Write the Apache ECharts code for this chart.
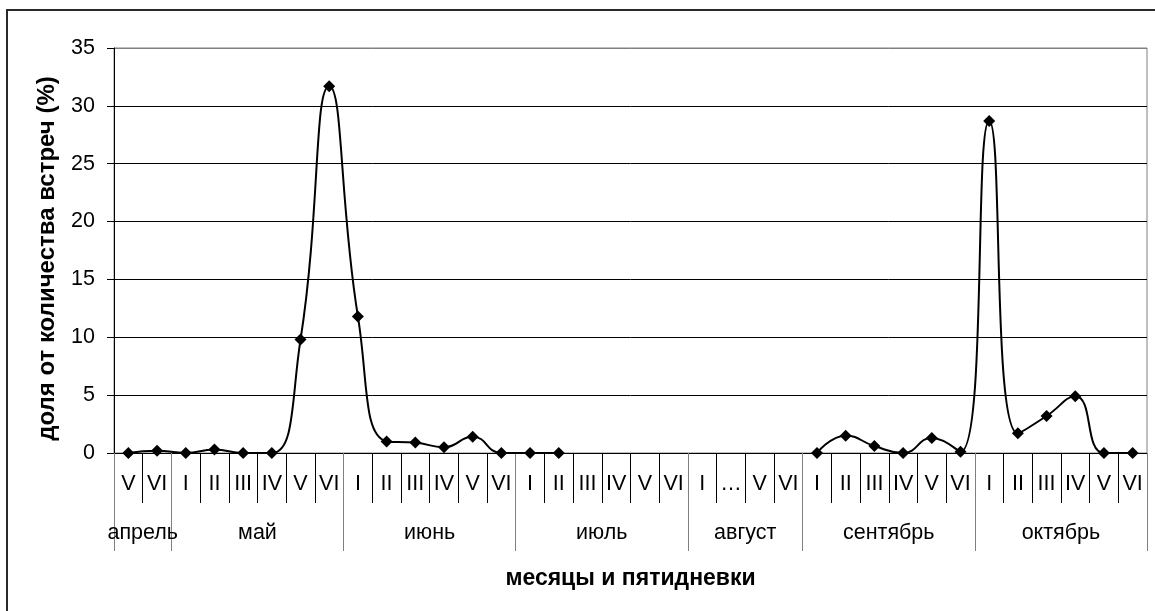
<!DOCTYPE html>
<html>
<head>
<meta charset="utf-8">
<script src="https://cdn.jsdelivr.net/npm/echarts@6/dist/echarts.min.js"></script>
<style>
html,body{margin:0;padding:0;background:#fff;}
#frame{position:absolute;left:6px;top:9px;width:1170px;height:640px;border:2px solid #2a2a2a;box-sizing:border-box;}
#chart{position:absolute;left:0;top:0;width:1155px;height:611px;}
</style>
</head>
<body>
<div id="frame"></div>
<div id="chart"></div>
<script>
var pentadLabels = ['V','VI',
  'I','II','III','IV','V','VI',
  'I','II','III','IV','V','VI',
  'I','II','III','IV','V','VI',
  'I','…','V','VI',
  'I','II','III','IV','V','VI',
  'I','II','III','IV','V','VI'];
var shareValues = [0, 0.2,
  0, 0.3, 0, 0, 9.8, 31.7,
  11.8, 1.0, 0.9, 0.5, 1.4, 0,
  0, 0, null, null, null, null,
  null, null, null, null,
  0, 1.5, 0.6, 0, 1.3, 0.1,
  28.7, 1.7, 3.2, 4.9, 0, 0];
var monthNames = ['апрель','май','июнь','июль','август','сентябрь','октябрь'];
var monthLengths = [2, 6, 6, 6, 4, 6, 6];
var yTicks = [0, 5, 10, 15, 20, 25, 30, 35];

var boundaries = [0], centers = [];
monthLengths.forEach(function (n) {
  var start = boundaries[boundaries.length - 1];
  centers.push(start + n / 2);
  boundaries.push(start + n);
});
var total = boundaries[boundaries.length - 1];

var font = 'Liberation Sans, Arial, sans-serif';
var chart = echarts.init(document.getElementById('chart'));
chart.setOption({
  backgroundColor: 'transparent',
  animation: false,
  grid: {left: 114, right: 8, top: 48, bottom: 158, show: true, borderColor: '#808080', borderWidth: 1, backgroundColor: 'transparent'},
  xAxis: [{
    type: 'category',
    data: pentadLabels,
    boundaryGap: true,
    axisLine: {lineStyle: {color: '#000', width: 1}},
    axisTick: {show: true, interval: 0, length: 50, lineStyle: {color: '#000'}},
    axisLabel: {interval: 0, margin: 20, fontSize: 21.5, color: '#000', fontFamily: font},
    splitLine: {show: false}
  }, {
    type: 'value',
    min: 0,
    max: total,
    position: 'bottom',
    axisLine: {show: false},
    splitLine: {show: false},
    axisTick: {show: true, customValues: boundaries, length: 98, lineStyle: {color: '#808080'}},
    axisLabel: {
      customValues: centers, margin: 69, fontSize: 21.5, color: '#000', fontFamily: font,
      formatter: function (v) { var i = centers.indexOf(v); return i >= 0 ? monthNames[i] : ''; }
    },
    name: 'месяцы и пятидневки',
    nameLocation: 'middle',
    nameGap: 114,
    nameTextStyle: {fontSize: 23, fontWeight: 'bold', color: '#000', fontFamily: font}
  }],
  yAxis: {
    type: 'value',
    min: yTicks[0],
    max: yTicks[yTicks.length - 1],
    interval: 5,
    axisLine: {show: true, lineStyle: {color: '#000'}},
    axisTick: {show: true, length: 7, lineStyle: {color: '#000'}},
    axisLabel: {margin: 19, fontSize: 21.5, color: '#000', fontFamily: font},
    splitLine: {show: true, lineStyle: {color: ['#000','#000','#000','#000','#000','#000','#000','#808080'], width: 1}},
    name: 'доля от количества встреч (%)',
    nameLocation: 'middle',
    nameRotate: 90,
    nameGap: 55,
    nameTextStyle: {fontSize: 24, fontWeight: 'bold', color: '#000', fontFamily: font, padding: [0, 16, 0, 0]}
  },
  series: [{
    type: 'line',
    data: shareValues,
    xAxisIndex: 0,
    smooth: 0.5,
    connectNulls: false,
    symbol: 'diamond',
    symbolSize: 12,
    lineStyle: {color: '#000', width: 2},
    itemStyle: {color: '#000'}
  }]
});
</script>
</body>
</html>
